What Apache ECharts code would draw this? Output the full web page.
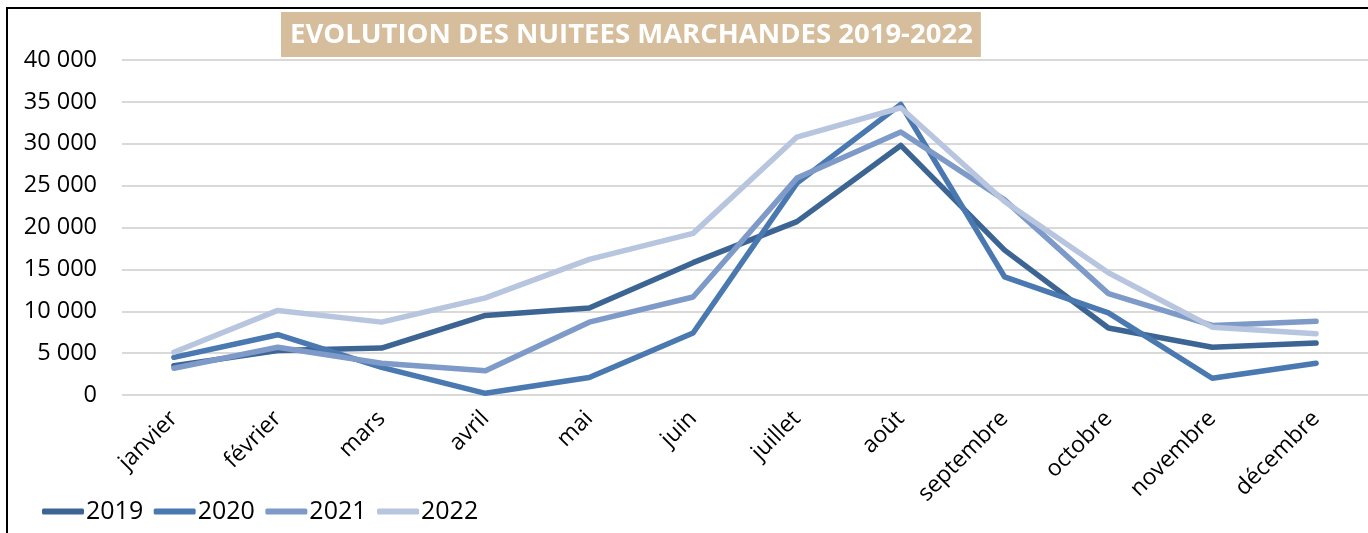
<!DOCTYPE html>
<html>
<head>
<meta charset="utf-8">
<script src="https://cdn.jsdelivr.net/npm/echarts@6/dist/echarts.min.js"></script>
<style>
html, body { margin: 0; padding: 0; background: #fff; }
#main { width: 1368px; height: 533px; }
</style>
</head>
<body>
<div id="main"></div>
<script>
var months = ['janvier', 'février', 'mars', 'avril', 'mai', 'juin', 'juillet', 'août', 'septembre', 'octobre', 'novembre', 'décembre'];
var years = ['2019', '2020', '2021', '2022'];
var v2019 = [3500, 5300, 5600, 9500, 10400, 15800, 20700, 29800, 17300, 8000, 5700, 6200];
var v2020 = [4500, 7200, 3300, 200, 2100, 7400, 25300, 34700, 14100, 9800, 2000, 3800];
var v2021 = [3200, 5700, 3800, 2900, 8700, 11700, 25900, 31400, 23300, 12100, 8300, 8800];
var v2022 = [5100, 10100, 8700, 11600, 16200, 19300, 30800, 34300, 23100, 14600, 8100, 7300];
var colors = ['#3D6594', '#4A78B0', '#7E9AC8', '#B7C5DF'];

var myChart = echarts.init(document.getElementById('main'));

function fmt(v) {
	// espace comme séparateur de milliers
	return String(v).replace(/\B(?=(\d{3})+(?!\d))/g, ' ');
}

var allValues = [v2019, v2020, v2021, v2022];
var series = [];
for (var i = 0; i < years.length; i++) {
	series.push({
		name: years[i],
		type: 'line',
		data: allValues[i],
		symbol: 'none',
		lineStyle: { width: 5.5, color: colors[i], cap: 'round', join: 'round' },
		itemStyle: { color: colors[i] }
	});
}

var option = {
	animation: false,
	color: colors,
	title: {
		text: 'EVOLUTION DES NUITEES MARCHANDES 2019-2022',
		left: 281,
		top: 12,
		backgroundColor: '#D6BD9B',
		padding: [9, 8, 8, 9],
		textStyle: {
			color: '#fff',
			fontSize: 27.5,
			fontWeight: 'bold',
			fontFamily: "'Open Sans', sans-serif"
		}
	},
	legend: {
		data: years,
		left: 37,
		top: 494,
		itemWidth: 42,
		itemHeight: 6,
		itemGap: 10.5,
		icon: 'roundRect',
		textStyle: {
			fontSize: 25,
			color: '#000',
			padding: [0, 0, 0, -3],
			fontFamily: "'Open Sans', sans-serif"
		}
	},
	graphic: [{
		type: 'rect',
		shape: { x: 7, y: 8, width: 1400, height: 600 },
		style: { fill: 'none', stroke: '#000', lineWidth: 2 },
		silent: true
	}],
	grid: {
		left: 122,
		right: 0,
		top: 60,
		bottom: 138,
		containLabel: false
	},
	xAxis: {
		type: 'category',
		data: months,
		boundaryGap: true,
		axisLine: { show: false },
		axisTick: { show: false },
		axisLabel: {
			rotate: 45,
			margin: 20,
			color: '#000',
			fontSize: 23,
			fontFamily: "'Open Sans', sans-serif"
		}
	},
	yAxis: {
		type: 'value',
		min: 0,
		max: 40000,
		interval: 5000,
		axisLine: { show: false },
		axisTick: { show: false },
		splitLine: { lineStyle: { color: '#D9D9D9', width: 2 } },
		axisLabel: {
			margin: 25,
			color: '#000',
			fontSize: 23.5,
			fontFamily: "'Open Sans', sans-serif",
			formatter: fmt
		}
	},
	series: series
};

myChart.setOption(option);
</script>
</body>
</html>
